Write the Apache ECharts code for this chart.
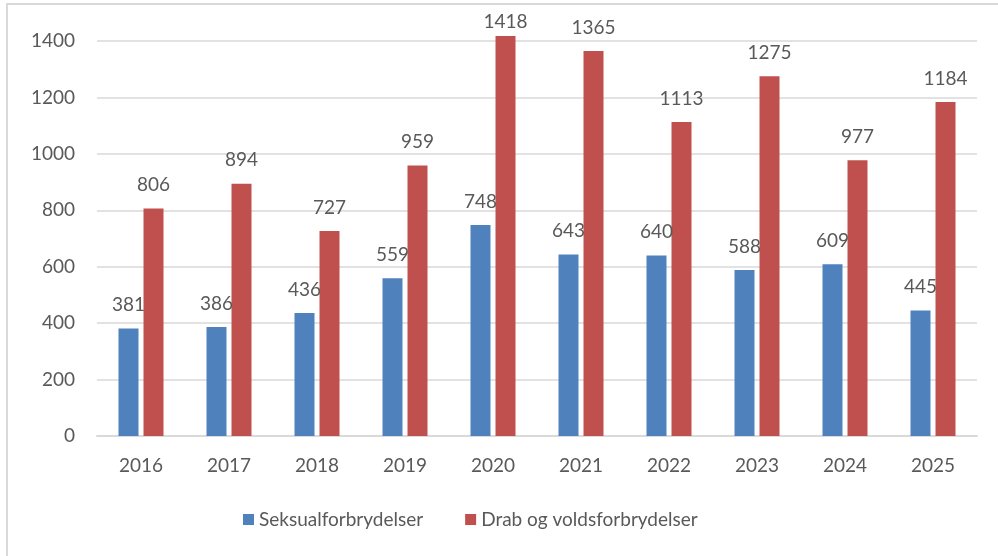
<!DOCTYPE html>
<html>
<head>
<meta charset="utf-8">
<script src="https://cdn.jsdelivr.net/npm/echarts@6/dist/echarts.min.js"></script>
<style>
  html, body { margin: 0; padding: 0; background: #fff; }
  #chart { width: 998px; height: 556px; }
</style>
</head>
<body>
<div id="chart"></div>
<script>
const years = ['2016', '2017', '2018', '2019', '2020', '2021', '2022', '2023', '2024', '2025'];
const seksual = [381, 386, 436, 559, 748, 643, 640, 588, 609, 445];
const drabVold = [806, 894, 727, 959, 1418, 1365, 1113, 1275, 977, 1184];
const seriesNames = ['Seksualforbrydelser', 'Drab og voldsforbrydelser'];

const FONT = 'Lato, "Open Sans", sans-serif';
const TXT = '#595959';

const chart = echarts.init(document.getElementById('chart'), null, { renderer: 'canvas' });

const labelStyle = {
  show: true,
  position: 'top',
  distance: 14,
  color: TXT,
  fontSize: 19,
  fontFamily: FONT
};

// keep value labels from running into the top edge of the chart
const keepInside = p => (p.labelRect.y < 12
  ? { x: p.labelRect.x + p.labelRect.width / 2, y: 22, align: 'center', verticalAlign: 'middle' }
  : {});

chart.setOption({
  animation: false,
  backgroundColor: '#fff',
  graphic: [{
    type: 'rect',
    shape: { x: 7, y: 4, width: 1000, height: 600 },
    style: { fill: 'none', stroke: '#d9d9d9', lineWidth: 2 },
    silent: true
  }],
  grid: { left: 97, right: 21, top: 41, bottom: 120, containLabel: false },
  legend: {
    bottom: 22,
    left: 238,
    itemWidth: 11,
    itemHeight: 11,
    itemGap: 42,
    icon: 'rect',
    textStyle: { color: TXT, fontSize: 19, fontFamily: FONT },
    data: seriesNames
  },
  xAxis: {
    type: 'category',
    data: years,
    axisLine: { lineStyle: { color: '#d9d9d9', width: 2 } },
    axisTick: { show: false },
    axisLabel: { color: TXT, fontSize: 19, fontFamily: FONT, margin: 20 }
  },
  yAxis: {
    type: 'value',
    min: 0,
    max: 1400,
    interval: 200,
    axisLine: { show: false },
    axisTick: { show: false },
    splitLine: { lineStyle: { color: '#d9d9d9', width: 1.5 } },
    axisLabel: { color: TXT, fontSize: 19, fontFamily: FONT, margin: 22, formatter: v => String(v) }
  },
  series: [
    {
      name: seriesNames[0],
      type: 'bar',
      data: seksual,
      barWidth: 20,
      barGap: '25%',
      clip: false,
      itemStyle: { color: '#4F81BD' },
      label: labelStyle,
      labelLayout: keepInside
    },
    {
      name: seriesNames[1],
      type: 'bar',
      data: drabVold,
      barWidth: 20,
      clip: false,
      itemStyle: { color: '#C0504D' },
      label: labelStyle,
      labelLayout: keepInside
    }
  ]
});
</script>
</body>
</html>
